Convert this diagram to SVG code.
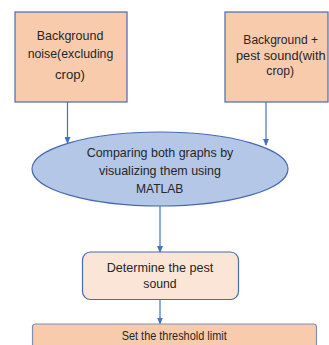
<svg xmlns="http://www.w3.org/2000/svg" width="329" height="345" viewBox="0 0 329 345">
<style>
.t{font-family:"Liberation Sans",Arial,sans-serif;fill:#262626;text-anchor:middle}
.box{fill:#f8cbad;stroke:#4a6ab0;stroke-width:1.2}
.con{stroke:#4472c4;stroke-width:1.2;fill:none;marker-end:url(#ah)}
</style>
<defs>
<marker id="ah" markerWidth="7" markerHeight="6" refX="6" refY="3" orient="auto" markerUnits="userSpaceOnUse">
<path d="M0,0 L7,3 L0,6 Z" fill="#4472c4"/>
</marker>
</defs>
<rect width="329" height="345" fill="#ffffff"/>
<g id="connectors">
<line class="con" x1="67.5" y1="102" x2="67.5" y2="143"/>
<line class="con" x1="266" y1="102" x2="266" y2="145"/>
<line class="con" x1="160" y1="206" x2="160" y2="252"/>
<line class="con" x1="160" y1="299.5" x2="160" y2="323.5"/>
</g>
<g id="n1">
<rect class="box" x="15" y="12" width="112" height="90"/>
<text class="t" font-size="13.5" x="70" y="40" textLength="66.7" lengthAdjust="spacingAndGlyphs">Background</text>
<text class="t" font-size="13.5" x="70.5" y="58" textLength="85.7" lengthAdjust="spacingAndGlyphs">noise(excluding</text>
<text class="t" font-size="13.5" x="70" y="79" textLength="30" lengthAdjust="spacingAndGlyphs">crop)</text>
</g>
<g id="n2">
<rect class="box" x="225" y="12" width="103" height="90"/>
<text class="t" font-size="12.5" x="280.7" y="44" textLength="74.7" lengthAdjust="spacingAndGlyphs">Background +</text>
<text class="t" font-size="12.5" x="280.8" y="60" textLength="89.7" lengthAdjust="spacingAndGlyphs">pest sound(with</text>
<text class="t" font-size="12.5" x="280.2" y="75" textLength="27.7" lengthAdjust="spacingAndGlyphs">crop)</text>
</g>
<g id="n3">
<ellipse cx="160" cy="169" rx="128" ry="37" fill="#b4c7e7" stroke="#4a6ab0" stroke-width="1.2"/>
<text class="t" font-size="13" x="160" y="157" textLength="146.7" lengthAdjust="spacingAndGlyphs">Comparing both graphs by</text>
<text class="t" font-size="13" x="160" y="175" textLength="122" lengthAdjust="spacingAndGlyphs">visualizing them using</text>
<text class="t" font-size="13" x="159.7" y="193" textLength="47.3" lengthAdjust="spacingAndGlyphs">MATLAB</text>
</g>
<g id="n4">
<rect x="82.5" y="252" width="156" height="47.5" rx="8" fill="#fbe5d6" stroke="#4a6ab0" stroke-width="1.2"/>
<text class="t" font-size="13" x="160" y="272" textLength="106.7" lengthAdjust="spacingAndGlyphs">Determine the pest</text>
<text class="t" font-size="13" x="160" y="288" textLength="33.3" lengthAdjust="spacingAndGlyphs">sound</text>
</g>
<g id="n5">
<rect x="32.5" y="324" width="284" height="30" rx="3" fill="#f8cbad" stroke="#7f8fb0" stroke-width="1.2"/>
<text class="t" font-size="12.5" x="174.2" y="339.5" textLength="105" lengthAdjust="spacingAndGlyphs">Set the threshold limit</text>
</g>
</svg>
